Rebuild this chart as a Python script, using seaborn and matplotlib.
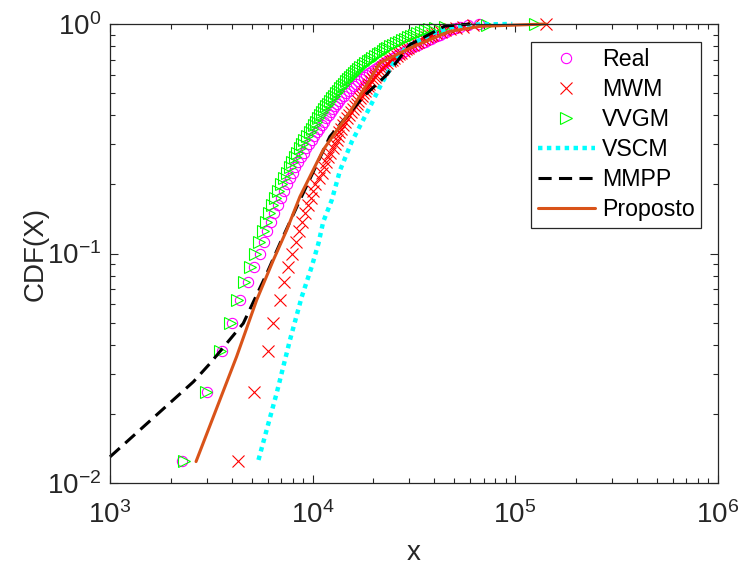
import numpy as np
import pandas as pd
import matplotlib
matplotlib.use("Agg")
import matplotlib.pyplot as plt
from matplotlib.ticker import LogLocator, NullFormatter
import seaborn as sns

# ---------------- data ----------------
# sorted sample values; the CDF (k/N) is computed by seaborn's ecdfplot
real_x = [2270, 3010, 3570, 4000, 4390, 4800, 5140, 5500, 5760, 5960,
          6240, 6450, 6720, 7000, 7230, 7480, 7740, 8010, 8240, 8480,
          8770, 9080, 9340, 9610, 9890, 10180, 10470, 10770, 11080, 11400,
          11720, 12060, 12340, 12620, 12920, 13210, 13510, 13830, 14230, 14640,
          15060, 15490, 15940, 16400, 16870, 17360, 17860, 18380, 19010, 19670,
          20350, 21070, 21800, 22550, 23330, 24140, 24980, 25850, 26740, 27670,
          28630, 29630, 30820, 32080, 33190, 34540, 35950, 37190, 38480, 39820,
          41200, 42630, 44120, 45650, 47220, 48860, 51160, 53520, 58600, 66400]

mwm_x = [4290, 5140, 6030, 6380, 6910, 7230, 7570, 7920, 8290, 8580,
         8870, 9180, 9500, 9780, 10060, 10290, 10710, 11140, 11400, 11660,
         11930, 12270, 12620, 12920, 13140, 13360, 13590, 13830, 14150, 14480,
         14800, 15150, 15490, 15850, 16210, 16590, 16870, 17160, 17460, 17760,
         18070, 18380, 18690, 19010, 19450, 19890, 20350, 20700, 21070, 21550,
         21920, 22290, 22810, 23330, 24010, 24700, 25270, 26000, 26590, 27370,
         28150, 28800, 29630, 30310, 31350, 32260, 33190, 34350, 35540, 36770,
         37830, 38920, 40740, 42870, 45130, 47760, 51160, 55350, 62040, 142200]

vvgm_x = [2320, 2980, 3490, 3910, 4240, 4590, 4910, 5200, 5440, 5700,
          5890, 6100, 6310, 6530, 6760, 6990, 7230, 7480, 7700, 7920,
          8150, 8380, 8630, 8870, 9130, 9390, 9670, 9950, 10180, 10410,
          10650, 10890, 11140, 11400, 11660, 11930, 12200, 12480, 12770, 13060,
          13360, 13670, 13990, 14310, 14640, 14970, 15320, 15670, 16030, 16400,
          16780, 17160, 17660, 18170, 18690, 19230, 19780, 20350, 20950, 21550,
          22170, 22810, 23460, 24140, 24980, 25850, 26740, 27670, 28630, 29630,
          30650, 31720, 33000, 34350, 35950, 37610, 40280, 45130, 72700, 125600]

vscm_x = [5410, 6650, 7740, 8850, 9910, 10700, 11300, 12450, 13690, 15630,
          19240, 21970, 25080, 29200, 39400, 50000, 65000, 97000]
vscm_y = [0.0126, 0.0246, 0.042, 0.0648, 0.0876, 0.1107, 0.1376, 0.171, 0.231, 0.307,
          0.436, 0.552, 0.674, 0.796, 0.913, 0.975, 0.995, 1.0]

mmpp_x = [1000, 2580, 3120, 4550, 5950, 6920, 8670, 12180, 17820, 23240,
          30270, 45100, 60000]
mmpp_y = [0.0130, 0.0276, 0.0332, 0.0496, 0.082, 0.111, 0.171, 0.323, 0.482, 0.600,
          0.813, 0.980, 1.0]

prop_x = [2660, 4217, 5300, 6410, 7460, 8670, 11300, 15900, 21500, 30270,
          47800, 67100, 142000]
prop_y = [0.0124, 0.0355, 0.0627, 0.0937, 0.1266, 0.177, 0.283, 0.436, 0.676, 0.786,
          0.929, 0.977, 1.0]

labels = ["Real", "MWM", "VVGM", "VSCM", "MMPP", "Proposto"]
x_label = "x"
y_label = "CDF(X)"

# ---------------- style ----------------
sns.set_style("white")
plt.rcParams["font.family"] = ["Liberation Sans", "DejaVu Sans"]
plt.rcParams["mathtext.default"] = "regular"
axis_col = "#262626"

fig = plt.figure(figsize=(7.41, 5.67), dpi=100)
ax = fig.add_axes([110 / 741, 1 - 483 / 567, 607.5 / 741, 459 / 567])
ax.set_xscale("log")
ax.set_yscale("log")

sns.ecdfplot(x=real_x, ax=ax, marker="o", linestyle="none", color="#FF00FF",
             mfc="none", mec="#FF00FF", ms=7.4, mew=0.8, label=labels[0], clip_on=False)
sns.ecdfplot(x=mwm_x, ax=ax, marker="x", linestyle="none", color="#FF0000",
             mec="#FF0000", ms=8, mew=0.8, label=labels[1], clip_on=False)
sns.ecdfplot(x=vvgm_x, ax=ax, marker=">", linestyle="none", color="#00FF00",
             mfc="none", mec="#00FF00", ms=9, mew=0.8, label=labels[2], clip_on=False)

sns.lineplot(x=vscm_x, y=vscm_y, ax=ax, color="#00FFFF", linewidth=3.2,
             linestyle=(0, (1, 1)), sort=False, estimator=None, label=labels[3], clip_on=False)
sns.lineplot(x=mmpp_x, y=mmpp_y, ax=ax, color="black", linewidth=2.2,
             linestyle=(0, (4.3, 2.4)), sort=False, estimator=None, label=labels[4], clip_on=False)
sns.lineplot(x=prop_x, y=prop_y, ax=ax, color="#D95319", linewidth=2.2,
             sort=False, estimator=None, label=labels[5], clip_on=False)

ax.set_xlim(1e3, 1e6)
ax.set_ylim(1e-2, 1e0)

ax.xaxis.set_major_locator(LogLocator(base=10, numticks=10))
ax.yaxis.set_major_locator(LogLocator(base=10, numticks=10))
ax.xaxis.set_minor_locator(LogLocator(base=10, subs=np.arange(2, 10), numticks=40))
ax.yaxis.set_minor_locator(LogLocator(base=10, subs=np.arange(2, 10), numticks=40))
ax.xaxis.set_minor_formatter(NullFormatter())
ax.yaxis.set_minor_formatter(NullFormatter())
ax.xaxis.set_ticks_position("both")
ax.yaxis.set_ticks_position("both")

ax.set_xlabel(x_label, fontsize=20, color=axis_col, labelpad=8)
ax.set_ylabel(y_label, fontsize=20, color=axis_col, labelpad=-1)

ax.tick_params(which="both", direction="in", bottom=True, top=True, left=True, right=True,
               colors=axis_col, width=0.8)
ax.tick_params(which="major", length=6, labelsize=20)
ax.tick_params(axis="x", which="major", pad=13)
ax.tick_params(axis="y", which="major", pad=6)
ax.tick_params(which="minor", length=3.5)
for sp in ax.spines.values():
    sp.set_color(axis_col)
    sp.set_linewidth(0.9)

leg = ax.legend(loc="upper right", bbox_to_anchor=((701 - 110) / 607.5, 1 - (42 - 24) / 459),
                borderaxespad=0, frameon=True, fancybox=False, edgecolor=axis_col,
                framealpha=1, fontsize=16.7, handlelength=2.45, handletextpad=0.3,
                labelspacing=0.3, borderpad=0.28, numpoints=1)
leg.get_frame().set_linewidth(0.9)
for t in leg.get_texts():
    t.set_color("black")

fig.savefig("out.png", dpi=100)
